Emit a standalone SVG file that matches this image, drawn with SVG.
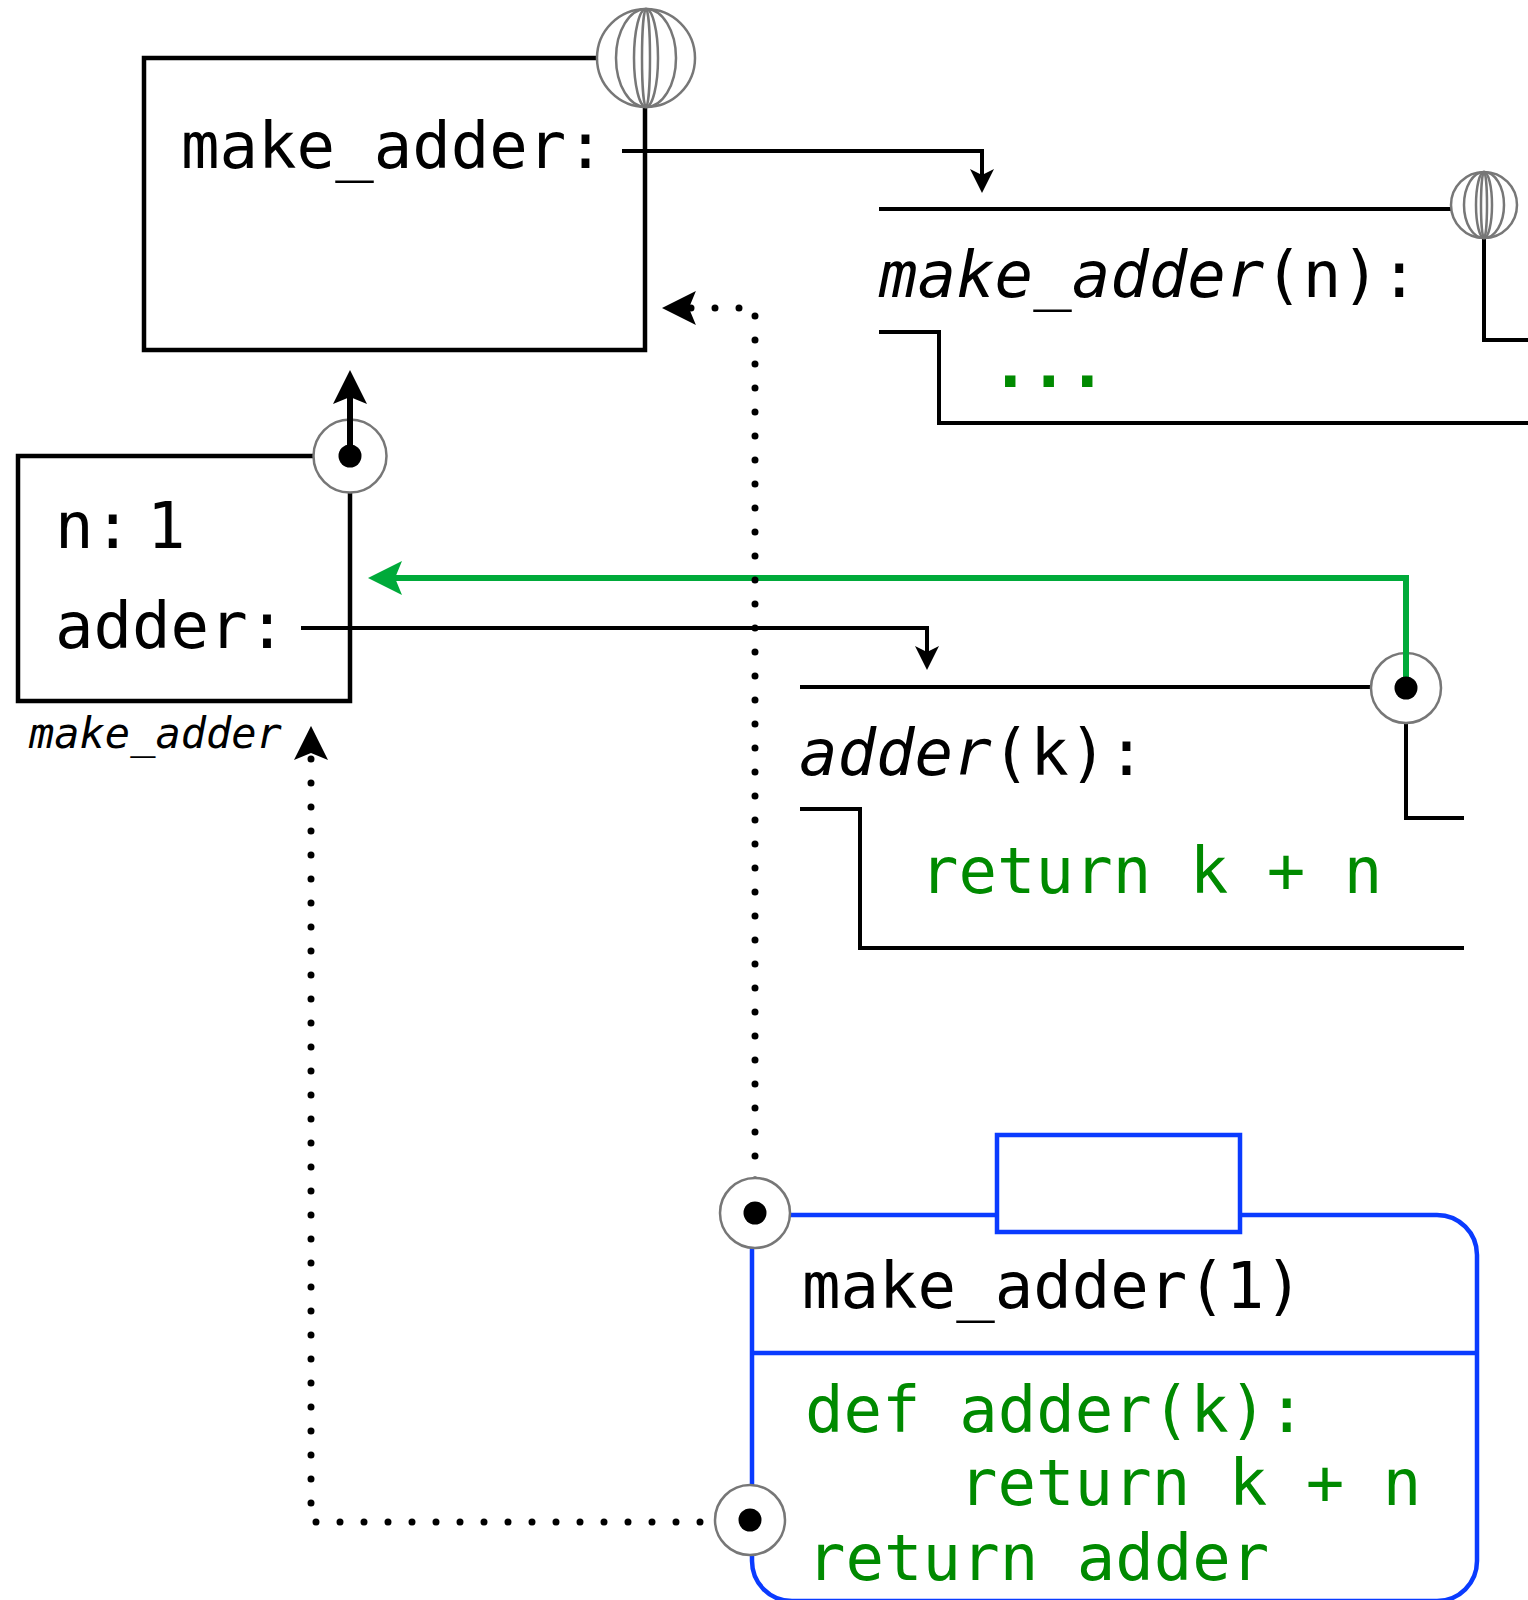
<svg xmlns="http://www.w3.org/2000/svg" width="1528" height="1600" viewBox="0 0 1528 1600">
  <defs>
    <style>
      .code{font-family:"DejaVu Sans Mono","Liberation Mono",monospace;font-size:64px;fill:#000}
      .it{font-style:italic}
      .green{fill:#008a00}
      .frame{fill:none;stroke:#000;stroke-width:4.5}
      .line{fill:none;stroke:#000;stroke-width:4}
      .ring{fill:#fff;stroke:#777;stroke-width:2.5}
      .mer{fill:none;stroke:#777;stroke-width:2.5}
      .dot{fill:#000}
      .dotted{fill:none;stroke:#000;stroke-width:7;stroke-linecap:round;stroke-dasharray:0 24}
      .blue{fill:none;stroke:#0a3bff;stroke-width:4.5}
    </style>
    <marker id="big" markerUnits="userSpaceOnUse" viewBox="-34 -17 34 34" markerWidth="34" markerHeight="34" refX="-27" refY="0" orient="auto">
      <path d="M0,0 L-34,-17 L-27,0 L-34,17 Z" fill="#000"/>
    </marker>
    <marker id="bigGreen" markerUnits="userSpaceOnUse" viewBox="-34 -17 34 34" markerWidth="34" markerHeight="34" refX="-27" refY="0" orient="auto">
      <path d="M0,0 L-34,-17 L-27,0 L-34,17 Z" fill="#00aa3a"/>
    </marker>
    <marker id="small" markerUnits="userSpaceOnUse" viewBox="-24 -12 24 24" markerWidth="24" markerHeight="24" refX="-18" refY="0" orient="auto">
      <path d="M0,0 L-24,-12 L-18,0 L-24,12 Z" fill="#000"/>
    </marker>
  </defs>

  <rect width="1528" height="1600" fill="#fff"/>

  <!-- global frame -->
  <g id="global-frame">
    <rect class="frame" x="144" y="58" width="501" height="292"/>
    <text class="code" x="181" y="168">make_adder:</text>
    <g id="global-globe">
      <circle class="ring" cx="646" cy="58" r="49"/>
      <ellipse class="mer" cx="646" cy="58" rx="30" ry="49"/>
      <ellipse class="mer" cx="646" cy="58" rx="12" ry="49"/>
      <ellipse class="mer" cx="646" cy="58" rx="4" ry="49"/>
    </g>
  </g>

  <!-- function object make_adder(n) -->
  <g id="func-make-adder">
    <path class="line" d="M879,209 H1451"/>
    <path class="line" d="M1484,238 V340 H1528"/>
    <path class="line" d="M879,332 H939 V423 H1528"/>
    <text class="code" x="879" y="297"><tspan class="it">make_adder</tspan>(n):</text>
    <text class="code green" x="991" y="387" font-weight="bold">...</text>
    <g id="func-globe">
      <circle class="ring" cx="1484" cy="205" r="33"/>
      <ellipse class="mer" cx="1484" cy="205" rx="20" ry="33"/>
      <ellipse class="mer" cx="1484" cy="205" rx="8" ry="33"/>
      <ellipse class="mer" cx="1484" cy="205" rx="3" ry="33"/>
    </g>
  </g>

  <!-- local frame f1 -->
  <g id="frame-f1">
    <rect class="frame" x="18" y="456" width="332" height="245"/>
    <circle class="ring" cx="350" cy="456" r="36.5"/>
    <text class="code" x="55" y="548">n:</text>
    <text class="code" x="147" y="548">1</text>
    <text class="code" x="55" y="648">adder:</text>
    <text class="code it" x="29" y="748" style="font-size:42px">make_adder</text>
  </g>

  <!-- function object adder(k) -->
  <g id="func-adder">
    <path class="line" d="M800,687 H1371"/>
    <path class="line" d="M1406,723 V818 H1464"/>
    <path class="line" d="M800,809 H860 V948 H1464"/>
    <circle class="ring" cx="1406" cy="688" r="35"/>
    <text class="code" x="799" y="775"><tspan class="it">adder</tspan>(k):</text>
    <text class="code green" x="920" y="893">return k + n</text>
  </g>

  <!-- call box make_adder(1) -->
  <g id="call-make-adder">
    <path class="blue" d="M752,1215 H1437 A40,40 0 0 1 1477,1255 V1561 A40,40 0 0 1 1437,1601 H792 A40,40 0 0 1 752,1561 Z"/>
    <rect x="997" y="1135" width="243" height="97" fill="#fff" stroke="#0a3bff" stroke-width="4.5"/>
    <path class="blue" d="M752,1353 H1477"/>
    <text class="code" x="802" y="1308">make_adder(1)</text>
    <text class="code green" x="805" y="1432">def adder(k):</text>
    <text class="code green" x="959" y="1505">return k + n</text>
    <text class="code green" x="807" y="1580">return adder</text>
  </g>

  <!-- connectors -->
  <g id="connectors">
    <path class="line" d="M622,151 H982 V175" marker-end="url(#small)"/>
    <path class="line" d="M301,628 H927 V652" marker-end="url(#small)"/>
    <path d="M1406,688 V578 H395" fill="none" stroke="#00aa3a" stroke-width="6" marker-end="url(#bigGreen)"/>
    <path d="M350,456 V397" fill="none" stroke="#000" stroke-width="6" marker-end="url(#big)"/>
    <path class="dotted" d="M724,1522 H311 V753"/>
    <path d="M311,753 V752.9" fill="none" stroke="none" marker-end="url(#big)"/>
    <path class="dotted" d="M755,1180 V308 H689"/>
    <path d="M689,308 H688.9" fill="none" stroke="none" marker-end="url(#big)"/>
  </g>

  <!-- pointer dots drawn over the connectors -->
  <g id="anchor-f1">
    <circle class="dot" cx="350" cy="456" r="11.5"/>
  </g>
  <g id="anchor-adder">
    <circle class="dot" cx="1406" cy="688" r="11.5"/>
  </g>
  <g id="anchor-call-parent">
    <circle class="ring" cx="755" cy="1213" r="35"/>
    <circle class="dot" cx="755" cy="1213" r="11.5"/>
  </g>
  <g id="anchor-call-value">
    <circle class="ring" cx="750" cy="1520" r="35"/>
    <circle class="dot" cx="750" cy="1520" r="11.5"/>
  </g>
</svg>
